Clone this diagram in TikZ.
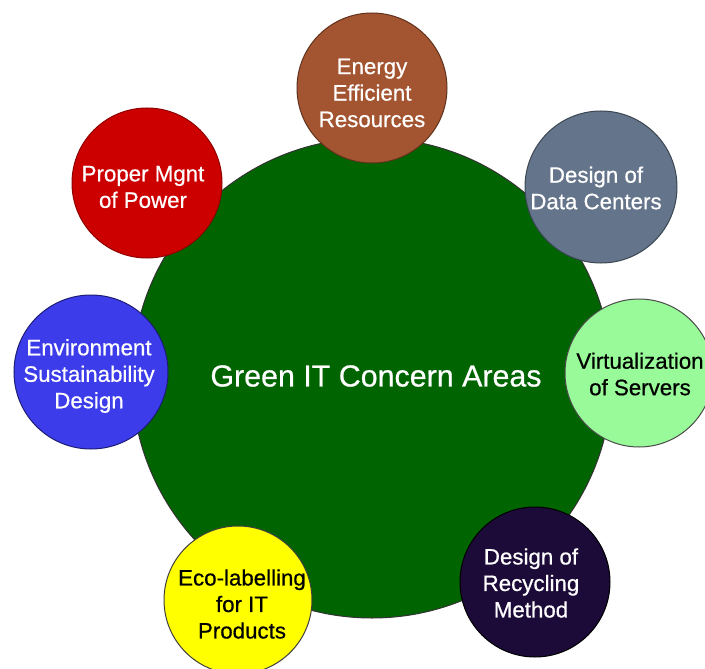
\documentclass[tikz,border=0pt]{standalone}
\usepackage{fontspec}
\setmainfont{Liberation Sans}[FakeBold=0.6]
\newfontfamily\heavysans{Liberation Sans}[AutoFakeBold=0.6]
\definecolor{bigGreen}{RGB}{0,100,0}
\definecolor{cBrown}{RGB}{163,84,48}
\definecolor{cSlate}{RGB}{100,116,138}
\definecolor{cPale}{RGB}{152,250,152}
\definecolor{cPurple}{RGB}{28,10,56}
\definecolor{cYellow}{RGB}{255,255,0}
\definecolor{cBlue}{RGB}{60,60,235}
\definecolor{cRed}{RGB}{205,0,0}
\tikzset{
  bubble/.style={circle, draw=black!75, line width=1pt, inner sep=0pt},
  btext/.style={align=center, inner sep=0pt, font=\heavysans\fontsize{22.3}{26.5}\selectfont\bfseries},
  ctext/.style={align=center, inner sep=0pt, font=\heavysans\fontsize{30.4}{36}\selectfont\bfseries, text=white}
}
\begin{document}
\begin{tikzpicture}[x=1pt,y=-1pt]
\useasboundingbox (0,0) rectangle (705,669);
\fill[white] (0,0) rectangle (705,669);
% central circle
\node[bubble, fill=bigGreen, draw=black!80, minimum size=480pt] (hub) at (372,378) {};
\node[ctext] (hubtext) at (376,376) {Green IT Concern Areas};
% satellites
\node[bubble, fill=cBrown, draw=cBrown!60!black, minimum size=150pt] (c1) at (372,88) {};
\node[btext, text=white] (t1) at (372,93) {Energy\\Efficient\\Resources};
\node[bubble, fill=cSlate, draw=cSlate!60!black, minimum size=152pt] (c2) at (601,187) {};
\node[btext, text=white] (t2) at (596,188) {Design of\\Data Centers};
\node[bubble, fill=cPale, draw=black!70, minimum size=148pt] (c3) at (639,373) {};
\node[btext, text=black] (t3) at (640,374) {Virtualization\\of Servers};
\node[bubble, fill=cPurple, draw=black, minimum size=150pt] (c4) at (535,582) {};
\node[btext, text=white] (t4) at (531,583) {Design of\\Recycling\\Method};
\node[bubble, fill=cYellow, draw=black!75, minimum size=148pt] (c5) at (238,600) {};
\node[btext, text=black] (t5) at (242,604) {Eco-labelling\\for IT\\Products};
\node[bubble, fill=cBlue, draw=cBlue!50!black, minimum size=154pt] (c6) at (91,372) {};
\node[btext, text=white] (t6) at (89,376) {Environment\\Sustainability\\Design};
\node[bubble, fill=cRed, draw=cRed!70!black, minimum size=150pt] (c7) at (147,183) {};
\node[btext, text=white] (t7) at (143,187) {Proper Mgnt\\of Power};
\end{tikzpicture}
\end{document}
